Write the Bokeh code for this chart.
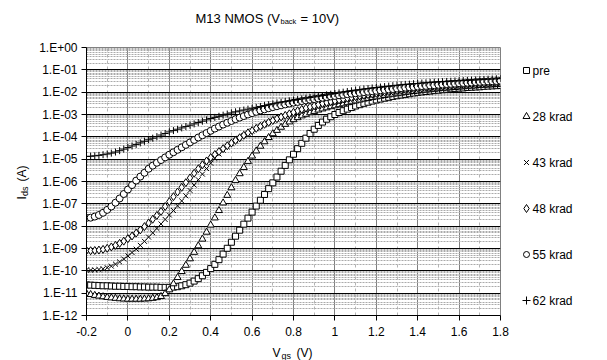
import math
from bokeh.plotting import figure
from bokeh.layouts import column, row
from bokeh.models import Range1d, FixedTicker, Label
from bokeh.embed import file_html
from bokeh.resources import INLINE

# ---------------- data ----------------
vgs = [round(-0.2 + 0.02 * i, 2) for i in range(101)]   # Vgs sweep, V

# log10(Ids [A]) per series, one row = 10 points = 0.2 V
pre_log10 = [
    -10.63, -10.64, -10.65, -10.66, -10.67, -10.67, -10.68, -10.69, -10.69, -10.70,
    -10.70, -10.71, -10.71, -10.72, -10.72, -10.73, -10.73, -10.73, -10.74, -10.74,
    -10.74, -10.73, -10.71, -10.67, -10.62, -10.55, -10.46, -10.35, -10.22, -10.07,
    -9.90, -9.71, -9.50, -9.25, -8.99, -8.72, -8.45, -8.18, -7.91, -7.64,
    -7.37, -7.10, -6.84, -6.58, -6.32, -6.06, -5.80, -5.54, -5.28, -5.03,
    -4.78, -4.53, -4.29, -4.06, -3.85, -3.66, -3.49, -3.34, -3.21, -3.10,
    -3.00, -2.91, -2.83, -2.76, -2.69, -2.62, -2.56, -2.50, -2.45, -2.40,
    -2.35, -2.31, -2.27, -2.23, -2.19, -2.16, -2.13, -2.10, -2.07, -2.04,
    -2.01, -1.99, -1.97, -1.95, -1.93, -1.91, -1.89, -1.87, -1.85, -1.84,
    -1.82, -1.81, -1.79, -1.78, -1.77, -1.76, -1.74, -1.73, -1.72, -1.71,
    -1.70]
k28_log10 = [
    -11.02, -11.06, -11.10, -11.13, -11.16, -11.19, -11.21, -11.23, -11.25, -11.26,
    -11.27, -11.27, -11.27, -11.27, -11.26, -11.25, -11.23, -11.20, -11.15, -11.02,
    -10.85, -10.58, -10.30, -10.03, -9.75, -9.46, -9.17, -8.88, -8.58, -8.27,
    -7.95, -7.63, -7.30, -6.96, -6.62, -6.28, -5.95, -5.65, -5.37, -5.10,
    -4.86, -4.63, -4.42, -4.22, -4.03, -3.86, -3.71, -3.57, -3.44, -3.33,
    -3.23, -3.14, -3.06, -2.99, -2.92, -2.86, -2.80, -2.75, -2.70, -2.65,
    -2.61, -2.56, -2.52, -2.47, -2.43, -2.39, -2.35, -2.31, -2.28, -2.24,
    -2.21, -2.18, -2.15, -2.12, -2.09, -2.07, -2.04, -2.02, -1.99, -1.97,
    -1.95, -1.93, -1.91, -1.89, -1.87, -1.85, -1.83, -1.82, -1.80, -1.79,
    -1.77, -1.76, -1.74, -1.73, -1.72, -1.70, -1.69, -1.68, -1.67, -1.66,
    -1.65]
k43_log10 = [
    -9.96, -9.97, -9.96, -9.94, -9.91, -9.86, -9.79, -9.70, -9.60, -9.47,
    -9.33, -9.18, -9.03, -8.86, -8.68, -8.49, -8.30, -8.10, -7.90, -7.70,
    -7.50, -7.30, -7.09, -6.87, -6.64, -6.40, -6.16, -5.92, -5.67, -5.42,
    -5.18, -4.96, -4.77, -4.60, -4.45, -4.31, -4.18, -4.06, -3.95, -3.84,
    -3.74, -3.64, -3.55, -3.46, -3.38, -3.30, -3.22, -3.15, -3.08, -3.01,
    -2.95, -2.89, -2.83, -2.78, -2.73, -2.68, -2.63, -2.58, -2.54, -2.50,
    -2.46, -2.42, -2.38, -2.34, -2.30, -2.26, -2.23, -2.20, -2.16, -2.13,
    -2.10, -2.07, -2.05, -2.02, -2.00, -1.97, -1.95, -1.93, -1.91, -1.89,
    -1.87, -1.85, -1.83, -1.82, -1.80, -1.78, -1.77, -1.75, -1.74, -1.72,
    -1.71, -1.70, -1.68, -1.67, -1.66, -1.65, -1.64, -1.63, -1.62, -1.61,
    -1.60]
k48_log10 = [
    -9.09, -9.10, -9.09, -9.07, -9.04, -8.99, -8.93, -8.86, -8.77, -8.67,
    -8.56, -8.44, -8.31, -8.17, -8.02, -7.86, -7.69, -7.52, -7.34, -7.12,
    -6.90, -6.68, -6.47, -6.26, -6.05, -5.84, -5.63, -5.43, -5.25, -5.08,
    -4.93, -4.79, -4.66, -4.53, -4.40, -4.28, -4.16, -4.04, -3.93, -3.82,
    -3.72, -3.62, -3.53, -3.44, -3.35, -3.27, -3.19, -3.11, -3.04, -2.97,
    -2.90, -2.83, -2.77, -2.71, -2.66, -2.61, -2.56, -2.51, -2.47, -2.43,
    -2.39, -2.35, -2.31, -2.27, -2.24, -2.20, -2.17, -2.14, -2.11, -2.08,
    -2.05, -2.02, -2.00, -1.97, -1.95, -1.93, -1.90, -1.88, -1.86, -1.84,
    -1.82, -1.81, -1.79, -1.77, -1.76, -1.74, -1.73, -1.71, -1.70, -1.68,
    -1.67, -1.66, -1.64, -1.63, -1.62, -1.61, -1.60, -1.59, -1.58, -1.57,
    -1.56]
k55_log10 = [
    -7.63, -7.62, -7.57, -7.50, -7.40, -7.27, -7.12, -6.95, -6.76, -6.56,
    -6.36, -6.16, -5.96, -5.78, -5.61, -5.43, -5.29, -5.16, -5.04, -4.92,
    -4.80, -4.69, -4.58, -4.47, -4.36, -4.25, -4.14, -4.03, -3.93, -3.83,
    -3.73, -3.63, -3.54, -3.45, -3.37, -3.29, -3.21, -3.14, -3.07, -3.00,
    -2.94, -2.88, -2.82, -2.77, -2.72, -2.67, -2.63, -2.59, -2.55, -2.51,
    -2.47, -2.44, -2.40, -2.37, -2.34, -2.31, -2.28, -2.25, -2.22, -2.19,
    -2.17, -2.14, -2.12, -2.09, -2.07, -2.05, -2.03, -2.00, -1.98, -1.96,
    -1.94, -1.92, -1.90, -1.88, -1.86, -1.84, -1.82, -1.80, -1.78, -1.77,
    -1.75, -1.73, -1.72, -1.70, -1.69, -1.67, -1.66, -1.64, -1.63, -1.62,
    -1.60, -1.59, -1.58, -1.57, -1.55, -1.54, -1.53, -1.52, -1.51, -1.50,
    -1.49]
k62_log10 = [
    -4.88, -4.87, -4.85, -4.83, -4.80, -4.77, -4.73, -4.68, -4.62, -4.55,
    -4.48, -4.41, -4.34, -4.27, -4.20, -4.13, -4.06, -3.99, -3.92, -3.85,
    -3.78, -3.72, -3.66, -3.60, -3.54, -3.48, -3.42, -3.36, -3.30, -3.24,
    -3.18, -3.13, -3.08, -3.03, -2.98, -2.93, -2.88, -2.84, -2.80, -2.76,
    -2.72, -2.68, -2.64, -2.60, -2.56, -2.52, -2.48, -2.45, -2.42, -2.39,
    -2.36, -2.33, -2.30, -2.27, -2.24, -2.21, -2.18, -2.15, -2.12, -2.09,
    -2.06, -2.03, -2.00, -1.97, -1.94, -1.91, -1.89, -1.86, -1.84, -1.81,
    -1.79, -1.77, -1.75, -1.73, -1.71, -1.69, -1.67, -1.65, -1.64, -1.62,
    -1.61, -1.59, -1.58, -1.56, -1.55, -1.54, -1.53, -1.52, -1.51, -1.50,
    -1.49, -1.48, -1.47, -1.46, -1.45, -1.44, -1.43, -1.42, -1.41, -1.40,
    -1.39]

series_names = ["pre", "28 krad", "43 krad", "48 krad", "55 krad", "62 krad"]
series_log10 = [pre_log10, k28_log10, k43_log10, k48_log10, k55_log10, k62_log10]
series_markers = ["square", "triangle", "x", "diamond", "circle", "cross"]
series_sizes = [6, 7, 7, 8, 7, 7]
legend_sizes = [6, 7, 7, 8, 6, 8]

x_ticks = [-0.2, 0, 0.2, 0.4, 0.6, 0.8, 1, 1.2, 1.4, 1.6, 1.8]
x_labels = ["-0.2", "0", "0.2", "0.4", "0.6", "0.8", "1", "1.2", "1.4", "1.6", "1.8"]
x_minor = [-0.1, 0.1, 0.3, 0.5, 0.7, 0.9, 1.1, 1.3, 1.5, 1.7]
y_exps = list(range(-12, 1))
y_labels = ["1.E-12", "1.E-11", "1.E-10", "1.E-09", "1.E-08", "1.E-07", "1.E-06",
            "1.E-05", "1.E-04", "1.E-03", "1.E-02", "1.E-01", "1.E+00"]

FONT = "Liberation Sans"

# ---------------- layout sizes (page pixels) ----------------
TOTAL_W, TOTAL_H = 607, 360
TITLE_H = 30          # title strip          (page y 0..30)
YLAB_W = 30           # y-label strip        (page x 0..30)
XLAB_H = 18           # x-label strip        (page y 342..360)
LEG_W = 95            # legend strip         (page x 512..607)
MAIN_W = TOTAL_W - YLAB_W - LEG_W
MAIN_H = TOTAL_H - TITLE_H - XLAB_H
ML, MR, MT, MB = 56, 12, 17, 27     # frame: x 86..500, y 47..315 on the page
FRAME_TOP = TITLE_H + MT
FRAME_BOT = TITLE_H + MAIN_H - MB


def text_strip(w, h, x0, x1, y_top, y_bot, **borders):
    """A figure without axes whose data coordinates equal page pixels."""
    f = figure(width=w, height=h, output_backend="svg", toolbar_location=None,
               x_range=Range1d(x0, x1), y_range=Range1d(y_bot, y_top),
               x_axis_location=None, y_axis_location=None, min_border=0, **borders)
    f.outline_line_color = None
    f.background_fill_color = "white"
    f.border_fill_color = "white"
    f.xgrid.visible = False
    f.ygrid.visible = False
    return f


def add_text(f, px, py, text, size, angle=0.0, baseline="alphabetic"):
    f.add_layout(Label(x=px, y=py, text=text, text_font=FONT,
                       text_font_size=size, text_color="black",
                       text_baseline=baseline, text_align="left",
                       angle=angle))


# ---------------- main chart ----------------
p = figure(width=MAIN_W, height=MAIN_H, output_backend="svg", toolbar_location=None,
           x_range=Range1d(-0.2, 1.8), y_range=Range1d(1e-12, 1.0),
           y_axis_type="log",
           min_border_left=ML, min_border_right=MR,
           min_border_top=MT, min_border_bottom=MB)
p.background_fill_color = "white"
p.border_fill_color = "white"
p.outline_line_color = "#808080"
p.outline_line_width = 1

y_ticks = [10.0 ** e for e in y_exps]
y_minor = [k * 10.0 ** e for e in y_exps[:-1] for k in range(2, 10)]

xt = FixedTicker(ticks=x_ticks, minor_ticks=x_minor)
yt = FixedTicker(ticks=y_ticks, minor_ticks=y_minor)
p.xaxis.ticker = xt
p.yaxis.ticker = yt
p.xgrid.ticker = xt
p.ygrid.ticker = yt
p.xaxis.major_label_overrides = dict(zip(x_ticks, x_labels))
p.yaxis.major_label_overrides = dict(zip(y_ticks, y_labels))

for ax in (p.xaxis[0], p.yaxis[0]):
    ax.axis_line_color = "black"
    ax.axis_line_width = 1
    ax.major_tick_line_color = "black"
    ax.major_tick_in = 0
    ax.major_tick_out = 5
    ax.minor_tick_line_color = None
    ax.major_label_text_font = FONT
    ax.major_label_text_font_size = "12px"
    ax.major_label_text_color = "black"
p.xaxis.major_label_standoff = 6
p.yaxis.major_label_standoff = 4

p.xgrid.grid_line_color = "#808080"
p.xgrid.grid_line_width = 1
p.xgrid.minor_grid_line_color = "#b4b4b4"
p.xgrid.minor_grid_line_dash = "3 3"
p.ygrid.grid_line_color = "black"
p.ygrid.grid_line_width = 1
p.ygrid.minor_grid_line_color = "#aaaaaa"
p.ygrid.minor_grid_line_dash = "2 1"

for logs, mk, sz in zip(series_log10, series_markers, series_sizes):
    ids = [10.0 ** v for v in logs]
    p.scatter(vgs, ids, marker=mk, size=sz, line_color="black",
              fill_color="white", line_width=1)

# strips in the same row get their frame aligned with the chart frame (page y 47..315)
leg_fig = text_strip(LEG_W, MAIN_H, TOTAL_W - LEG_W, TOTAL_W, FRAME_TOP, FRAME_BOT)
ylab_fig = text_strip(YLAB_W, MAIN_H, 0, YLAB_W, FRAME_TOP, FRAME_BOT)

# ---------------- legend strip (symbol + name per series) ----------------
LEG_X, LEG_Y0, LEG_DY = 526, 70, 46
for i, (name, mk, sz) in enumerate(zip(series_names, series_markers, legend_sizes)):
    yy = LEG_Y0 + LEG_DY * i
    leg_fig.scatter([LEG_X], [yy], marker=mk, size=sz, line_color="black",
                    fill_color="white", line_width=1)
    add_text(leg_fig, LEG_X + 6, yy, name, "12px", baseline="middle")

# ---------------- y-label ----------------
add_text(ylab_fig, 21.5, 199, "I", "12px", math.pi / 2)
add_text(ylab_fig, 24.5, 195.5, "ds", "9px", math.pi / 2)
add_text(ylab_fig, 21.5, 181, "(A)", "12px", math.pi / 2)

# ---------------- title / x-label strips ----------------
title_fig = text_strip(TOTAL_W, TITLE_H, 0, TOTAL_W, 0, TITLE_H)
add_text(title_fig, 195, 17.5, "M13 NMOS (V", "13px")
add_text(title_fig, 280, 20.5, "back", "7.5px")
add_text(title_fig, 300, 17.5, "= 10V)", "13px")

xlab_fig = text_strip(TOTAL_W, XLAB_H, 0, TOTAL_W, TITLE_H + MAIN_H, TOTAL_H)
add_text(xlab_fig, 272, 352, "V", "12px")
add_text(xlab_fig, 281, 355, "gs", "9px")
add_text(xlab_fig, 296, 352, "(V)", "12px")

layout = column(title_fig, row(ylab_fig, p, leg_fig), xlab_fig)
open("out.html", "w").write(file_html(layout, INLINE))
